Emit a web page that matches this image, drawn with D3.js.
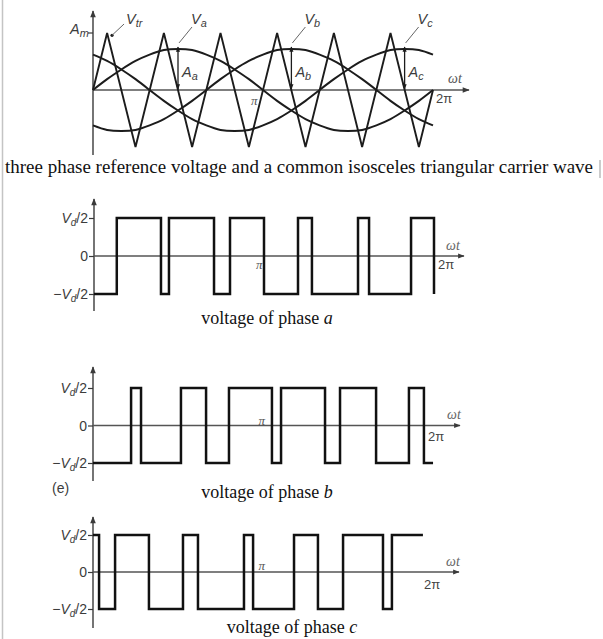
<!DOCTYPE html>
<html><head><meta charset="utf-8">
<script src="https://cdn.jsdelivr.net/npm/d3@7"></script>
<style>
html,body{margin:0;padding:0;background:#fff;}
svg{display:block;}
</style></head>
<body>
<script>
// ---------------- DATA (ωt in units of π) ----------------
const carrierT = [0, 0.083, 0.25, 0.417, 0.583, 0.75, 0.917, 1.083, 1.25, 1.417, 1.583, 1.75, 1.917, 2.0];
const carrierV = [0, 1, -1, 1, -1, 1, -1, 1, -1, 1, -1, 1, -1, 0];
const refT = [0,0.083,0.167,0.25,0.333,0.417,0.5,0.583,0.667,0.75,0.833,0.917,1,1.083,1.167,1.25,1.333,1.417,1.5,1.583,1.667,1.75,1.833,1.917,2];
const vaValues = [0,.19,.36,.51,.62,.70,.72,.70,.62,.51,.36,.19,0,-.19,-.36,-.51,-.62,-.70,-.72,-.70,-.62,-.51,-.36,-.19,0];
const vbValues = [-.62,-.70,-.72,-.70,-.62,-.51,-.36,-.19,0,.19,.36,.51,.62,.70,.72,.70,.62,.51,.36,.19,0,-.19,-.36,-.51,-.62];
const vcValues = [.62,.51,.36,.19,0,-.19,-.36,-.51,-.62,-.70,-.72,-.70,-.62,-.51,-.36,-.19,0,.19,.36,.51,.62,.70,.72,.70,.62];
const peakNames = ["a", "b", "c"];
const peakT = [0.5, 1.167, 1.833];
const peakV = [0.72, 0.72, 0.72];

const phaseAEdges = [0.134, 0.394, 0.441, 0.706, 0.800, 1.000, 1.200, 1.282, 1.553, 1.618, 1.865, 2.000];
const phaseBEdges = [0.226, 0.285, 0.522, 0.671, 0.807, 1.062, 1.116, 1.377, 1.466, 1.680, 1.875, 1.964];
const phaseCEdges = [0.036, 0.131, 0.332, 0.534, 0.623, 0.896, 0.950, 1.193, 1.335, 1.484, 1.721, 1.774];
const phaseStart = [-1, -1, 1];
const phaseEnd = [2.0, 2.018, 1.958];
const levelTicks = [1, 0, -1];
const xTickVals = [1, 2];
const mainTitle = "three phase reference voltage and a common isosceles triangular carrier wave";
const phaseTitles = ["a", "b", "c"];

// ---------------- SETUP ----------------
const W = 603, H = 639;
const svg = d3.select("body").append("svg").attr("width", W).attr("height", H);
const INK = "#1c1c1c", AX = "#3a3a3a", TXT = "#3c3c3c";
const SANS = "Liberation Sans, Arial, sans-serif", SERIF = "Liberation Serif, Times New Roman, serif";
const defs = svg.append("defs");
defs.append("marker").attr("id", "arr").attr("viewBox", "0 0 10 10").attr("refX", 9).attr("refY", 5)
  .attr("markerWidth", 6).attr("markerHeight", 5).attr("orient", "auto-start-reverse")
  .append("path").attr("d", "M0,1 L10,5 L0,9 z").attr("fill", AX);
defs.append("marker").attr("id", "arrS").attr("viewBox", "0 0 10 10").attr("refX", 9).attr("refY", 5)
  .attr("markerWidth", 4).attr("markerHeight", 4).attr("orient", "auto-start-reverse")
  .append("path").attr("d", "M0,1 L10,5 L0,9 z").attr("fill", INK);

// page border
svg.append("line").attr("x1", 2.5).attr("x2", 2.5).attr("y1", 0).attr("y2", H).attr("stroke", "#c4c4c4").attr("stroke-width", 1.5);
svg.append("line").attr("x1", 600).attr("x2", 600).attr("y1", 160).attr("y2", 178).attr("stroke", "#aaa").attr("stroke-width", 1.2);

function sub(sel, main, s) {
  sel.append("tspan").text(main);
  sel.append("tspan").attr("dy", 3).attr("font-size", "0.75em").text(s);
}

// ---------------- TOP CHART ----------------
const xT = d3.scaleLinear().domain([0, 2]).range([93, 433]);
const yT = d3.scaleLinear().domain([-1, 1]).range([147, 33]);
const topG = svg.append("g");

topG.append("line").attr("x1", xT(0)).attr("x2", xT(0)).attr("y1", 155).attr("y2", 11)
  .attr("stroke", AX).attr("stroke-width", 1.4).attr("marker-end", "url(#arr)");
topG.append("line").attr("x1", xT(0)).attr("x2", 469).attr("y1", yT(0)).attr("y2", yT(0))
  .attr("stroke", "#555").attr("stroke-width", 1.4).attr("marker-end", "url(#arr)");
topG.append("line").attr("x1", xT(0) - 5).attr("x2", xT(0)).attr("y1", yT(1)).attr("y2", yT(1)).attr("stroke", AX).attr("stroke-width", 1.2);

const carrierPts = carrierT.map((t, i) => [t, carrierV[i]]);
topG.append("path").datum(carrierPts)
  .attr("d", d3.line().x(d => xT(d[0])).y(d => yT(d[1])))
  .attr("fill", "none").attr("stroke", INK).attr("stroke-width", 1.9).attr("stroke-linejoin", "miter");

[vaValues, vbValues, vcValues].forEach(vals => {
  topG.append("path").datum(refT.map((t, i) => [t, vals[i]]))
    .attr("d", d3.line().curve(d3.curveNatural).x(d => xT(d[0])).y(d => yT(d[1])))
    .attr("fill", "none").attr("stroke", INK).attr("stroke-width", 2);
});

peakT.forEach((t, i) => {
  const x = xT(t);
  topG.append("line").attr("x1", x).attr("x2", x).attr("y1", yT(peakV[i]) - 2).attr("y2", yT(0) - 1)
    .attr("stroke", INK).attr("stroke-width", 1.3)
    .attr("marker-start", "url(#arrS)").attr("marker-end", "url(#arrS)");
  topG.append("line").attr("x1", x + 1).attr("x2", x + 14).attr("y1", yT(peakV[i]) - 6).attr("y2", 27)
    .attr("stroke", "#666").attr("stroke-width", 1);
  const tv = topG.append("text").attr("x", x + 13).attr("y", 24).attr("font-family", SANS)
    .attr("font-style", "italic").attr("font-size", 14.5).attr("fill", TXT);
  sub(tv, "V", peakNames[i]);
  const ta = topG.append("text").attr("x", x + 4).attr("y", 77).attr("font-family", SANS)
    .attr("font-style", "italic").attr("font-size", 14.5).attr("fill", TXT);
  sub(ta, "A", peakNames[i]);
});
topG.append("circle").attr("cx", xT(0.112)).attr("cy", yT(0.96)).attr("r", 1.6).attr("fill", INK);
topG.append("line").attr("x1", xT(0.112)).attr("x2", xT(0.112) + 12).attr("y1", yT(0.96)).attr("y2", 24)
  .attr("stroke", "#666").attr("stroke-width", 1);
const vtr = topG.append("text").attr("x", xT(0.112) + 14).attr("y", 24).attr("font-family", SANS)
  .attr("font-style", "italic").attr("font-size", 14.5).attr("fill", TXT);
sub(vtr, "V", "tr");
const am = topG.append("text").attr("x", xT(0) - 23).attr("y", yT(1) + 1).attr("font-family", SANS)
  .attr("font-style", "italic").attr("font-size", 14.5).attr("fill", TXT);
sub(am, "A", "m");
topG.append("text").attr("x", xT(1) - 12).attr("y", yT(0) + 15).attr("font-family", SERIF)
  .attr("font-style", "italic").attr("font-size", 13).attr("fill", "#555").text("π");
topG.append("text").attr("x", xT(2) + 3).attr("y", yT(0) + 13).attr("font-family", SANS)
  .attr("font-size", 13).attr("fill", "#444").text("2π");
topG.append("text").attr("x", 448).attr("y", 83).attr("font-family", SERIF)
  .attr("font-style", "italic").attr("font-size", 14).attr("fill", "#555").text("ωt");

svg.append("text").attr("x", 5).attr("y", 173).attr("font-family", SERIF)
  .attr("font-size", 18).attr("fill", "#111").attr("textLength", 588).attr("lengthAdjust", "spacingAndGlyphs").text(mainTitle);

// ---------------- PWM PANELS ----------------
const panels = [
  {edges: phaseAEdges, x0: 94, x2: 434, hi: 218, lo: 294, axTop: 199, axBot: 311, axEnd: 464,
   piDy: 13, piDx: -8, twoDx: 4, twoDy: 13, omega: [446, 250], title: [267, 324]},
  {edges: phaseBEdges, x0: 93, x2: 430, hi: 388, lo: 463, axTop: 367, axBot: 481, axEnd: 460,
   piDy: -1, piDx: -3, twoDx: -2, twoDy: 15, omega: [447, 419], title: [267, 498]},
  {edges: phaseCEdges, x0: 93, x2: 430, hi: 535, lo: 609, axTop: 517, axBot: 628, axEnd: 459,
   piDy: -2, piDx: -3, twoDx: -6, twoDy: 17, omega: [446, 566], title: [292, 633]}
];

panels.forEach((p, i) => {
  const x = d3.scaleLinear().domain([0, 2]).range([p.x0, p.x2]);
  const y = d3.scaleLinear().domain([-1, 1]).range([p.lo, p.hi]);
  const g = svg.append("g");

  const ax = g.append("g").attr("transform", `translate(${p.x0},0)`)
    .call(d3.axisLeft(y).tickValues(levelTicks).tickSize(5).tickSizeOuter(0).tickFormat(""));
  ax.select(".domain").remove();
  ax.selectAll(".tick line").attr("stroke", AX).attr("stroke-width", 1.2);
  ax.selectAll(".tick").each(function(d) {
    const t = d3.select(this).append("text").attr("x", -6).attr("dy", "0.35em").attr("text-anchor", "end")
      .attr("font-family", SANS).attr("font-size", 14).attr("fill", TXT);
    if (d === 0) { t.text("0"); return; }
    if (d < 0) t.append("tspan").text("\u2212");
    t.append("tspan").attr("font-style", "italic").text("V");
    t.append("tspan").attr("font-style", "italic").attr("font-size", 10).attr("dy", 3).text("d");
    t.append("tspan").attr("dy", -3).text("/2");
  });
  g.append("line").attr("x1", p.x0).attr("x2", p.x0).attr("y1", p.axBot).attr("y2", p.axTop)
    .attr("stroke", AX).attr("stroke-width", 1.4).attr("marker-end", "url(#arr)");
  g.append("line").attr("x1", p.x0).attr("x2", p.axEnd).attr("y1", y(0)).attr("y2", y(0))
    .attr("stroke", "#555").attr("stroke-width", 1.3).attr("marker-end", "url(#arr)");

  let lvl = phaseStart[i];
  const pts = [[0, lvl]];
  p.edges.forEach(e => { lvl = -lvl; pts.push([e, lvl]); });
  pts.push([phaseEnd[i], lvl]);
  g.append("path").datum(pts)
    .attr("d", d3.line().curve(d3.curveStepAfter).x(d => x(d[0])).y(d => y(d[1])))
    .attr("fill", "none").attr("stroke", "#111").attr("stroke-width", 2.5).attr("stroke-linejoin", "miter");

  g.append("text").attr("x", x(xTickVals[0]) + p.piDx).attr("y", y(0) + p.piDy).attr("font-family", SERIF)
    .attr("font-style", "italic").attr("font-size", 13).attr("fill", "#555").text("π");
  g.append("text").attr("x", x(xTickVals[1]) + p.twoDx).attr("y", y(0) + p.twoDy).attr("font-family", SANS)
    .attr("font-size", 13).attr("fill", "#444").text("2π");
  g.append("text").attr("x", p.omega[0]).attr("y", p.omega[1]).attr("font-family", SERIF)
    .attr("font-style", "italic").attr("font-size", 14).attr("fill", "#666").text("ωt");

  const tt = g.append("text").attr("x", p.title[0]).attr("y", p.title[1]).attr("text-anchor", "middle")
    .attr("font-family", SERIF).attr("font-size", 18).attr("fill", "#111");
  tt.append("tspan").text("voltage of phase ");
  tt.append("tspan").attr("font-style", "italic").text(phaseTitles[i]);
});

svg.append("text").attr("x", 52).attr("y", 493).attr("font-family", SANS)
  .attr("font-size", 14).attr("fill", TXT).text("(e)");
</script>
</body></html>
